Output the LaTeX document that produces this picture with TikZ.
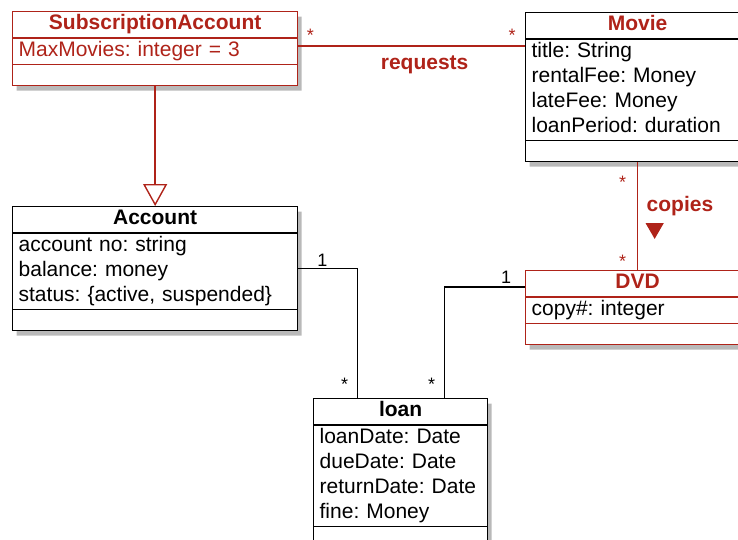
\documentclass[tikz,border=0pt]{standalone}
\usepackage{fontspec}
\setmainfont{Liberation Sans}
\usetikzlibrary{positioning,shapes.multipart,shapes.geometric,arrows.meta,shadows}
\definecolor{umlred}{RGB}{175,35,25}
\tikzset{>=Latex}
\newcommand\clsname[1]{\leavevmode\hspace*{\fill}\strut\textbf{#1}\hspace*{\fill}\null}

\begin{document}
\begin{tikzpicture}[x=1pt, y=-1pt,
    umlclass/.style={rectangle split, rectangle split parts=3, draw, line width=1.3pt,
      fill=white, anchor=north west, inner xsep=6pt, inner ysep=0pt, align=left,
      rectangle split empty part height=20pt, rectangle split empty part depth=0pt,
      font=\fontsize{21}{25}\selectfont\frenchspacing,
      drop shadow={shadow xshift=4pt, shadow yshift=-5pt, opacity=.55}},
    redclass/.style={umlclass, draw=umlred},
    mult/.style={font=\fontsize{18}{18}\selectfont, inner sep=0pt},
    assoc/.style={line width=1.4pt},
    rel/.style={font=\fontsize{21}{21}\selectfont\bfseries, text=umlred}]
    \useasboundingbox (0,0) rectangle (738,539);
    \clip (0,0) rectangle (738,539);

    % classes
    \node[redclass, text width=273pt, text=umlred] (sub) at (12,11)
      {\clsname{SubscriptionAccount}
       \nodepart{two}\strut MaxMovies: integer = 3\strut};
    \node[umlclass, text width=212pt] (movie) at (525,12)
      {\textcolor{umlred}{\clsname{Movie}}
       \nodepart{two}\strut title: String\\ rentalFee: Money\\ lateFee: Money\\ loanPeriod: duration\strut};
    \node[umlclass, text width=273pt] (acc) at (12,206)
      {\clsname{Account}
       \nodepart{two}\strut account no: string\\ balance: money\\ status: \{active, suspended\}\strut};
    \node[redclass, text width=212pt] (dvd) at (525,270)
      {\textcolor{umlred}{\clsname{DVD}}
       \nodepart{two}\strut copy\#: integer\strut};
    \node[umlclass, text width=162pt] (loan) at (313,398)
      {\clsname{loan}
       \nodepart{two}\strut loanDate: Date\\ dueDate: Date\\ returnDate: Date\\ fine: Money\strut};

    % requests
    \coordinate (reqA) at ([yshift=-35pt]sub.north east);
    \draw[assoc, umlred] (reqA) -- (reqA -| movie.west)
      node[mult, at start, xshift=12pt, yshift=11pt] (reqsrc) {*}
      node[mult, at end, xshift=-13pt, yshift=11pt] (reqdst) {*}
      node[rel, midway, xshift=13pt, yshift=-19pt] (requests) {requests};

    % generalization
    \draw[assoc, umlred, -{Triangle[open, length=22pt, width=24pt]}] (sub.south) -- (acc.north);

    % copies
    \draw[assoc, umlred] (movie.south) -- (dvd.north)
      node[mult, at start, xshift=-15pt, yshift=-20pt] (cpsrc) {*}
      node[mult, at end, xshift=-15pt, yshift=9pt] (cpdst) {*}
      node[rel, pos=.41, anchor=west, xshift=5pt] (copies) {copies};
    \node[fill=umlred, regular polygon, regular polygon sides=3, shape border rotate=180,
      minimum size=21pt, inner sep=0pt] (copiesdir) at ([xshift=12pt, yshift=-22pt]copies.west) {};

    % loans
    \coordinate (loanA) at ([xshift=-43pt]loan.north);
    \draw[assoc] (acc.east) -| (loanA)
      node[mult, at start, xshift=24pt, yshift=8pt] (accone) {1}
      node[mult, at end, xshift=-13pt, yshift=14pt] (accmany) {*};
    \coordinate (dvdA) at ([yshift=-17pt]dvd.north west);
    \coordinate (loanB) at ([xshift=44pt]loan.north);
    \draw[assoc] (dvdA) -| (loanB)
      node[mult, at start, xshift=-19pt, yshift=10pt] (dvdone) {1}
      node[mult, at end, xshift=-13pt, yshift=14pt] (dvdmany) {*};
\end{tikzpicture}
\end{document}
